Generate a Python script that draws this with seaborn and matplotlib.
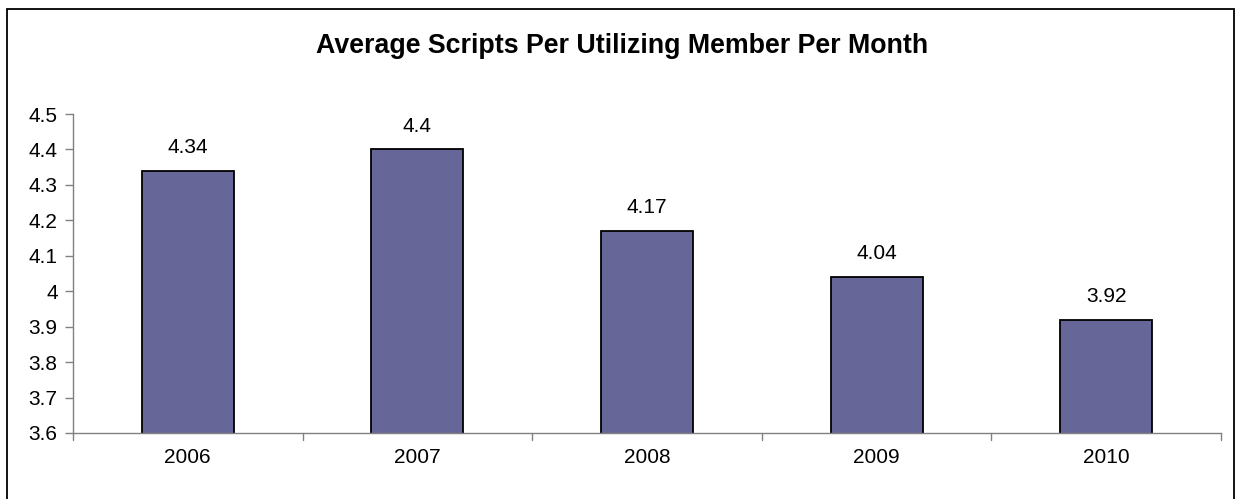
import matplotlib
matplotlib.use('Agg')
import matplotlib.pyplot as plt
import seaborn as sns
import pandas as pd
from matplotlib.patches import Rectangle

# chart values
years = ['2006', '2007', '2008', '2009', '2010']
scripts = [4.34, 4.40, 4.17, 4.04, 3.92]
value_labels = ['4.34', '4.4', '4.17', '4.04', '3.92']
y_ticks = [3.6, 3.7, 3.8, 3.9, 4.0, 4.1, 4.2, 4.3, 4.4, 4.5]
y_tick_labels = ['3.6', '3.7', '3.8', '3.9', '4', '4.1', '4.2', '4.3', '4.4', '4.5']

data = pd.DataFrame({'year': years, 'scripts': scripts})

sns.set_style('white')
plt.rcParams['font.family'] = ['Liberation Sans', 'DejaVu Sans']
plt.rcParams['text.color'] = 'black'
plt.rcParams['xtick.color'] = 'black'
plt.rcParams['ytick.color'] = 'black'

fig = plt.figure(figsize=(12.36, 4.99), dpi=100)
ax = fig.add_axes([73 / 1236, 1 - 433 / 499, (1221 - 73) / 1236, (433 - 114) / 499])

sns.barplot(data=data, x='year', y='scripts', color='#666699', saturation=1,
            width=0.4, edgecolor='black', linewidth=1.3, ax=ax)

ax.set_ylim(3.6, 4.5)
ax.set_xlim(-0.5, 4.5)
ax.set_yticks(y_ticks)
ax.set_yticklabels(y_tick_labels, fontsize=15)
ax.set_xticks(range(len(years)))
ax.set_xticklabels(years, fontsize=15)
ax.tick_params(axis='x', length=0, pad=11, labelcolor='black')
ax.tick_params(axis='y', length=6, width=1, color='#808080', direction='out', left=True,
               pad=5, labelcolor='black')
ax.set_xlabel('')
ax.set_ylabel('')

# category boundary ticks on x axis
for b in [k - 0.5 for k in range(len(years) + 1)]:
    ax.plot([b, b], [3.6, 3.6 - 0.9 * 7 / 319], color='#808080', lw=1, clip_on=False)

for s in ['top', 'right']:
    ax.spines[s].set_visible(False)
for s in ['left', 'bottom']:
    ax.spines[s].set_color('#808080')
    ax.spines[s].set_linewidth(1)

for i, (v, lab) in enumerate(zip(scripts, value_labels)):
    ax.annotate(lab, (i, v), xytext=(0, 10), textcoords='offset points',
                ha='center', va='bottom', fontsize=15, color='black')

fig.text((316 + 928) / 2 / 1236, 1 - 46 / 499, 'Average Scripts Per Utilizing Member Per Month',
         ha='center', va='center', fontsize=19.3, fontweight='bold', color='black')

fig.patches.append(Rectangle((7 / 1236, -0.05), (1234 - 7) / 1236, 1.05 - 9 / 499,
                             transform=fig.transFigure, fill=False, edgecolor='black', lw=1.3))

fig.savefig('out.png', dpi=100)
